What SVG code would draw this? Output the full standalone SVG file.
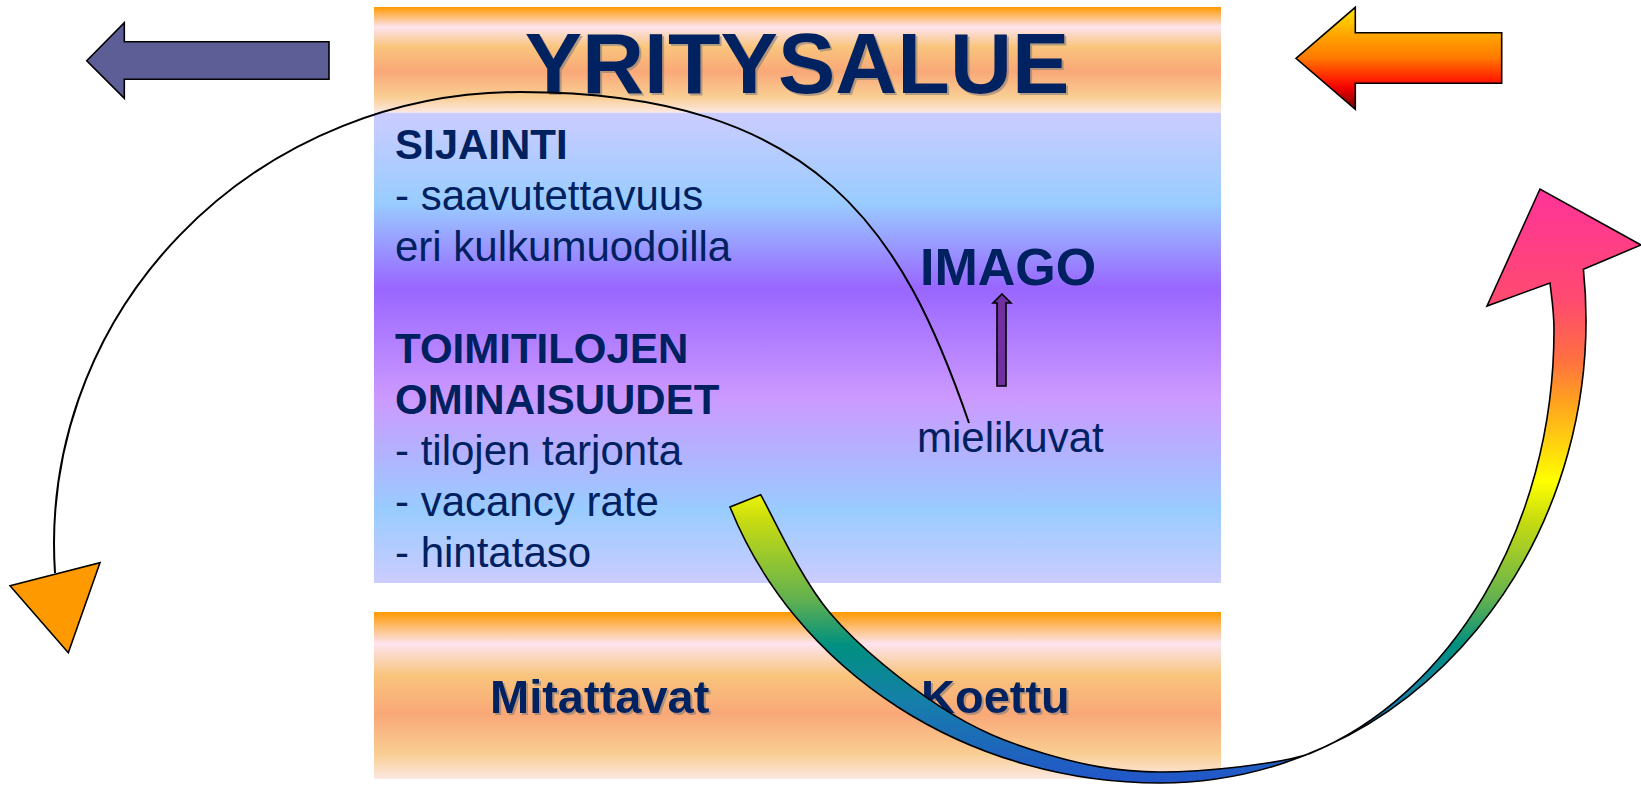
<svg xmlns="http://www.w3.org/2000/svg" width="1641" height="785" viewBox="0 0 1641 785">
<defs>
<linearGradient id="gOrange" x1="0" y1="0" x2="0" y2="1">
<stop offset="0" stop-color="#FF9900"/>
<stop offset="0.19" stop-color="#FDE4EE"/>
<stop offset="0.38" stop-color="#F9C47C"/>
<stop offset="0.61" stop-color="#F9A878"/>
<stop offset="0.85" stop-color="#F9CE92"/>
<stop offset="1" stop-color="#FCE8E2"/>
</linearGradient>
<linearGradient id="gMid" x1="0" y1="0" x2="0" y2="1">
<stop offset="0" stop-color="#CCCCFF"/>
<stop offset="0.192" stop-color="#99CCFF"/>
<stop offset="0.373" stop-color="#9966FF"/>
<stop offset="0.605" stop-color="#CC99FF"/>
<stop offset="0.845" stop-color="#99CCFF"/>
<stop offset="1" stop-color="#CCCCFF"/>
</linearGradient>
<linearGradient id="gFire" x1="0" y1="0" x2="0" y2="1">
<stop offset="0" stop-color="#FFE600"/>
<stop offset="0.25" stop-color="#FFAA00"/>
<stop offset="0.5" stop-color="#FF7700"/>
<stop offset="0.72" stop-color="#FF1A00"/>
<stop offset="0.8" stop-color="#EE0000"/>
<stop offset="1" stop-color="#6E0000"/>
</linearGradient>
<linearGradient id="gRainbow" gradientUnits="userSpaceOnUse" x1="0" y1="189" x2="0" y2="785">
<stop offset="0" stop-color="#FF3399"/>
<stop offset="0.186" stop-color="#FF4A70"/>
<stop offset="0.287" stop-color="#FF7040"/>
<stop offset="0.354" stop-color="#FFA020"/>
<stop offset="0.49" stop-color="#FFFF00"/>
<stop offset="0.555" stop-color="#C8DC10"/>
<stop offset="0.69" stop-color="#60B050"/>
<stop offset="0.765" stop-color="#009080"/>
<stop offset="0.857" stop-color="#1580A8"/>
<stop offset="0.958" stop-color="#2060C0"/>
<stop offset="1" stop-color="#2255CC"/>
</linearGradient>
<filter id="shadow" x="-5%" y="-5%" width="110%" height="120%">
<feDropShadow dx="2" dy="2" stdDeviation="0.6" flood-color="#777777" flood-opacity="0.55"/>
</filter>
</defs>
<style>
text { font-family: "Liberation Sans", Arial, sans-serif; fill: #002060; }
.b { font-weight: bold; }
.body { font-size: 42px; }
.edge { stroke: #000000; stroke-width: 1.6; stroke-linejoin: miter; }
.line { fill: none; stroke: #000000; stroke-width: 2; }
</style>
<rect width="1641" height="785" fill="#FFFFFF"/>

<g id="header">
<rect x="374" y="7" width="847" height="105.7" fill="url(#gOrange)"/>
<text x="797" y="93" class="b" font-size="86" text-anchor="middle" filter="url(#shadow)">YRITYSALUE</text>
</g>

<g id="content">
<rect x="374" y="112.7" width="847" height="470.3" fill="url(#gMid)"/>
<text class="body" x="395">
<tspan x="395" y="159.3" class="b">SIJAINTI</tspan>
<tspan x="395" y="210.3">- saavutettavuus</tspan>
<tspan x="395" y="261.3">eri kulkumuodoilla</tspan>
<tspan x="395" y="363.3" class="b">TOIMITILOJEN</tspan>
<tspan x="395" y="414.3" class="b">OMINAISUUDET</tspan>
<tspan x="395" y="465.3">- tilojen tarjonta</tspan>
<tspan x="395" y="516.3">- vacancy rate</tspan>
<tspan x="395" y="567.3">- hintataso</tspan>
</text>
</g>

<g id="imago">
<text x="920" y="285" class="b" font-size="52">IMAGO</text>
</g>
<g id="mielikuvat">
<text x="917" y="452" class="body">mielikuvat</text>
</g>

<g id="bottom">
<rect x="374" y="612" width="847" height="167" fill="url(#gOrange)"/>
<text x="490" y="713" class="b" font-size="47" filter="url(#shadow)">Mitattavat</text>
<text x="921" y="713" class="b" font-size="47" filter="url(#shadow)">Koettu</text>
</g>

<g id="arrow-left">
<polygon class="edge" fill="#5E5E96" points="86.7,60.7 124.3,22.7 124.3,41.7 329,41.7 329,79.3 124.3,79.3 124.3,98.3"/>
</g>
<g id="arrow-right">
<polygon class="edge" fill="url(#gFire)" points="1296,58.3 1355.3,7.3 1355.3,32.7 1501.7,32.7 1501.7,83.3 1355.3,83.3 1355.3,109.3"/>
</g>

<g id="connectors">
<polygon class="edge" fill="#7030A0" stroke-width="1.2" points="1002,294 1011,303 1006,303 1006,386 997,386 997,303 993,303"/>
<path class="line" d="M55,573 A466,452 0 0 1 520,92 C820,92 903.8,234 969,423"/>
<polygon class="edge" fill="#FF9900" stroke-width="2" points="10,585.7 100,562.7 68.3,652.7"/>
<path class="edge" fill="url(#gRainbow)" d="M730,507 A458.6,423 0 0 0 1160,783 A426,463 0 0 0 1583.4,269.2 L1641,245 L1540,189 L1487,306 L1550,283 C1551,293 1554,310 1554,330 C1554,530 1448.8,696.6 1310,753.4 C1280,764 1204.2,772 1160,772 C1115.8,772 1081.5,764.5 1045,753.7 C1008.5,742.9 976.8,730.7 940.9,707.2 C905,683.7 859.8,648.1 829.8,612.7 C799.8,577.3 772.1,514.4 760.6,494.7 Z"/>
</g>
</svg>
